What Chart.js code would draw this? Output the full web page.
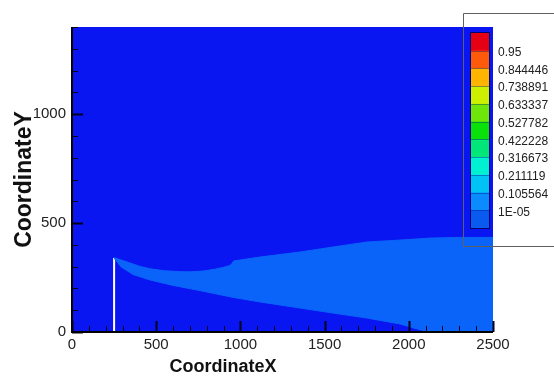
<!DOCTYPE html>
<html>
<head>
<meta charset="utf-8">
<script src="https://cdn.jsdelivr.net/npm/chart.js@4.4.1/dist/chart.umd.min.js"></script>
<style>
  html, body { margin: 0; padding: 0; background: #ffffff; }
  #wrap { width: 554px; height: 376px; }
</style>
</head>
<body>
<div id="wrap"><canvas id="c" width="554" height="376"></canvas></div>
<script>
// ---------- data ----------
const xTickValues = [0, 500, 1000, 1500, 2000, 2500];
const yTickValues = [0, 500, 1000];

// upper edge of the light-blue plume (left -> right)
const upperX = [250, 300, 344, 400, 463, 550, 640, 701, 780, 849, 900, 938, 950, 960, 1116, 1354, 1550, 1752, 1948, 2126, 2300, 2500];
const upperY = [340, 328, 317, 302, 290, 281, 277, 276, 280, 288, 297, 305, 315, 326, 344, 367, 390, 413, 422, 431, 434, 434];

// lower edge of the plume (left -> right)
const lowerX = [250, 290, 362, 463, 600, 760, 950, 1116, 1354, 1550, 1752, 1948, 2049, 2126, 2500];
const lowerY = [340, 300, 264, 239, 214, 190, 160, 138, 110, 87, 64, 37, 14, 0, 0];

// white wall
const wallX = [250, 250];
const wallY = [0, 340];

// small cyan tip at the top of the wall
const tipX = [252, 300];
const tipY = [338, 322];

// colour bar
const levelLabels = ['0.95', '0.844446', '0.738891', '0.633337', '0.527782',
                     '0.422228', '0.316673', '0.211119', '0.105564', '1E-05'];
const levelColors = ['#e60014', '#ff5a0a', '#ffb400', '#cdf000', '#6ee60a',
                     '#0ae10a', '#00e678', '#00f0d2', '#00c3f5', '#0a8cff', '#0a5af0'];

const bgBlue = '#0a16f2';
const plumeBlue = '#0a64fa';

// ---------- build polygon ----------
const plume = [];
for (let i = 0; i < upperX.length; i++) plume.push({x: upperX[i], y: upperY[i]});
for (let i = lowerX.length - 1; i >= 0; i--) plume.push({x: lowerX[i], y: lowerY[i]});
const wall = wallX.map((x, i) => ({x, y: wallY[i]}));
const tip = tipX.map((x, i) => ({x, y: tipY[i]}));

const SANS = "'Liberation Sans', Arial, sans-serif";

const bgPlugin = {
  id: 'bg',
  beforeDatasetsDraw(chart) {
    const {ctx, chartArea: a} = chart;
    ctx.save();
    ctx.fillStyle = bgBlue;
    ctx.fillRect(a.left, a.top, a.right - a.left, a.bottom - a.top);
    ctx.restore();
  }
};

const axesPlugin = {
  id: 'axesDeco',
  afterDatasetsDraw(chart) {
    const {ctx, chartArea: a, scales: {x, y}} = chart;
    ctx.save();
    ctx.strokeStyle = '#000018';
    for (let v = 0; v <= 2500; v += 100) {
      const px = Math.round(x.getPixelForValue(v)) + 0.5;
      const major = v % 500 === 0;
      ctx.lineWidth = major ? 2 : 1;
      ctx.beginPath();
      ctx.moveTo(px, a.bottom);
      ctx.lineTo(px, a.bottom - (major ? 11 : 6));
      ctx.stroke();
    }
    for (let v = 0; v <= 1400; v += 100) {
      const py = Math.round(y.getPixelForValue(v)) + 0.5;
      const major = v % 500 === 0;
      ctx.lineWidth = major ? 2 : 1;
      ctx.beginPath();
      ctx.moveTo(a.left, py);
      ctx.lineTo(a.left + (major ? 11 : 6), py);
      ctx.stroke();
    }
    ctx.strokeStyle = '#000000';
    ctx.lineWidth = 2;
    ctx.beginPath();
    ctx.moveTo(a.left, a.top);
    ctx.lineTo(a.left, a.bottom);
    ctx.lineTo(a.right, a.bottom);
    ctx.stroke();
    ctx.restore();
  },
  afterDraw(chart) {
    const {ctx} = chart;
    ctx.save();
    ctx.fillStyle = '#111111';
    ctx.font = "bold 18px " + SANS;
    ctx.textAlign = 'center';
    ctx.textBaseline = 'middle';
    ctx.fillText('CoordinateX', 223, 367);
    ctx.restore();
  }
};

const colorbarPlugin = {
  id: 'colorbar',
  afterDraw(chart) {
    const {ctx} = chart;
    ctx.save();
    ctx.strokeStyle = '#606060';
    ctx.lineWidth = 1;
    ctx.beginPath();
    ctx.moveTo(554, 13.5);
    ctx.lineTo(463.5, 13.5);
    ctx.lineTo(463.5, 246.5);
    ctx.lineTo(554, 246.5);
    ctx.stroke();
    const top = 33, bottom = 228, left = 471, w = 18;
    const n = levelColors.length;
    const h = (bottom - top) / n;
    for (let i = 0; i < n; i++) {
      ctx.fillStyle = levelColors[i];
      ctx.fillRect(left, top + i * h, w, h + 0.5);
    }
    ctx.strokeStyle = '#000066';
    ctx.lineWidth = 1;
    ctx.globalAlpha = 0.35;
    for (let i = 1; i < n; i++) {
      ctx.beginPath();
      ctx.moveTo(left, Math.round(top + i * h) + 0.5);
      ctx.lineTo(left + w, Math.round(top + i * h) + 0.5);
      ctx.stroke();
    }
    ctx.globalAlpha = 1;
    ctx.strokeStyle = '#000070';
    ctx.strokeRect(left - 0.5, top - 0.5, w + 1, bottom - top + 1);
    ctx.fillStyle = '#222222';
    ctx.font = "12px " + SANS;
    ctx.textAlign = 'left';
    ctx.textBaseline = 'middle';
    for (let i = 0; i < levelLabels.length; i++) {
      ctx.fillText(levelLabels[i], 498, top + (i + 1) * h + 2);
    }
    ctx.restore();
  }
};

new Chart(document.getElementById('c'), {
  type: 'scatter',
  data: {
    datasets: [
      {
        label: 'plume',
        data: plume,
        showLine: true,
        fill: 'shape',
        backgroundColor: plumeBlue,
        borderColor: plumeBlue,
        borderWidth: 1,
        pointRadius: 0,
        tension: 0
      },
      {
        label: 'tip',
        data: tip,
        showLine: true,
        borderColor: '#1ea0ff',
        borderWidth: 2,
        pointRadius: 0
      },
      {
        label: 'wall',
        data: wall,
        showLine: true,
        borderColor: '#ffffff',
        borderWidth: 2,
        pointRadius: 0
      }
    ]
  },
  options: {
    responsive: false,
    animation: false,
    devicePixelRatio: 1,
    layout: { padding: { top: 27, right: 61, bottom: 0, left: 0 } },
    plugins: { legend: { display: false }, tooltip: { enabled: false } },
    scales: {
      x: {
        type: 'linear',
        min: 0, max: 2500,
        afterFit(s) { s.height = 44; },
        afterBuildTicks(s) { s.ticks = xTickValues.map(v => ({value: v})); },
        grid: { display: false, drawTicks: false },
        border: { display: false },
        ticks: {
          padding: 4,
          color: '#222222',
          maxRotation: 0,
          font: { family: SANS, size: 15 },
          callback: v => String(v)
        }
      },
      y: {
        type: 'linear',
        min: 0, max: 1400,
        afterFit(s) { s.width = 72; },
        afterBuildTicks(s) { s.ticks = yTickValues.map(v => ({value: v})); },
        grid: { display: false, drawTicks: false },
        border: { display: false },
        ticks: {
          padding: 6,
          color: '#222222',
          font: { family: SANS, size: 15 },
          callback: v => String(v)
        },
        title: {
          display: true,
          text: 'CoordinateY',
          color: '#111111',
          font: { family: SANS, size: 23, weight: 'bold', lineHeight: 1 },
          padding: { top: 13, bottom: 0 }
        }
      }
    }
  },
  plugins: [bgPlugin, axesPlugin, colorbarPlugin]
});
</script>
</body>
</html>
